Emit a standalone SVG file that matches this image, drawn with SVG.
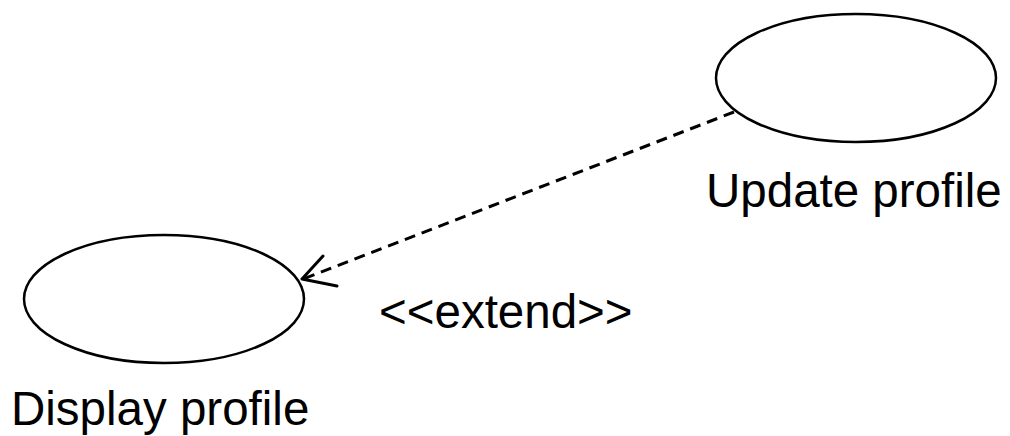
<svg xmlns="http://www.w3.org/2000/svg" width="1010" height="436" viewBox="0 0 1010 436">
<style>
.uc{fill:#fff;stroke:#000;stroke-width:2.5}
.lbl{font-family:"Liberation Sans",Arial,sans-serif;font-size:47.5px;fill:#000}
.dash{fill:none;stroke:#000;stroke-width:3;stroke-dasharray:11 7}
.head{fill:none;stroke:#000;stroke-width:3;stroke-linecap:round;stroke-linejoin:round}
</style>
<rect width="1010" height="436" fill="#fff"/>
<g id="update-profile">
<ellipse class="uc" cx="856" cy="78" rx="140" ry="64"/>
<text class="lbl" x="706" y="207">Update profile</text>
</g>
<g id="display-profile">
<ellipse class="uc" cx="164" cy="299" rx="140" ry="64"/>
<text class="lbl" x="11" y="425">Display profile</text>
</g>
<g id="connectors">
<path class="dash" d="M734,112 L303,279"/>
<path class="head" d="M323,256 L302,279 L337,286"/>
<text class="lbl" x="379" y="328">&lt;&lt;extend&gt;&gt;</text>
</g>
</svg>
